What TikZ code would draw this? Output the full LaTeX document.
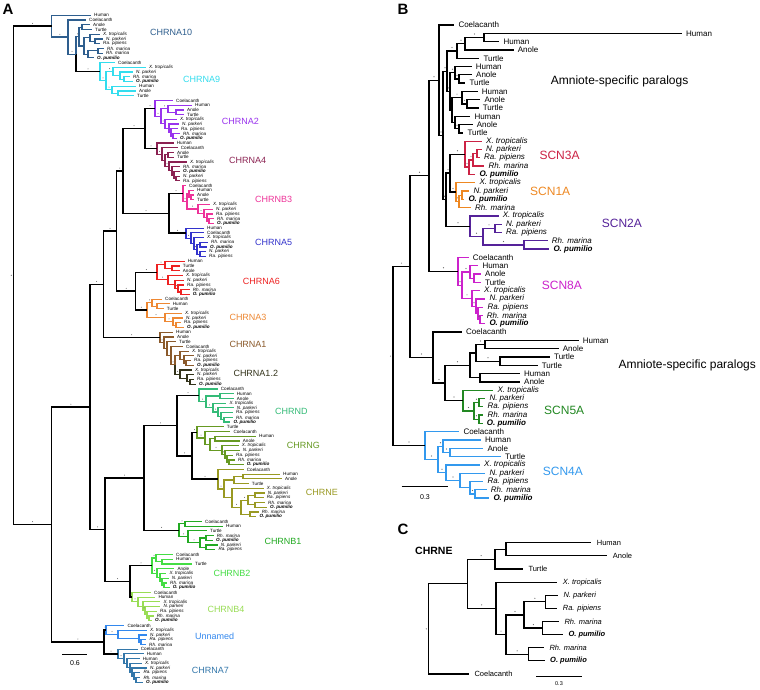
\documentclass[tikz,border=0pt]{standalone}
\usepackage{fontspec}
\setmainfont{Liberation Sans}
\usetikzlibrary{calc}
\definecolor{cA10}{HTML}{2E5E8E}\definecolor{cA9}{HTML}{33DDEE}\definecolor{cA2}{HTML}{9933EE}
\definecolor{cA4}{HTML}{8B2252}\definecolor{cB3}{HTML}{EE3399}\definecolor{cA5}{HTML}{3333CC}
\definecolor{cA6}{HTML}{EE2222}\definecolor{cA3}{HTML}{EE8833}\definecolor{cA1}{HTML}{8B5A2B}
\definecolor{cA12}{HTML}{33331A}\definecolor{cD}{HTML}{33BB77}\definecolor{cG}{HTML}{669922}
\definecolor{cE}{HTML}{999922}\definecolor{cB1}{HTML}{22AA22}\definecolor{cB2}{HTML}{44DD44}
\definecolor{cB4}{HTML}{99DD55}\definecolor{cUn}{HTML}{3388EE}\definecolor{cA7}{HTML}{3377AA}
\definecolor{cS3}{HTML}{CC2244}\definecolor{cS1}{HTML}{EE8822}\definecolor{cS2}{HTML}{552299}
\definecolor{cS8}{HTML}{CC22CC}\definecolor{cS5}{HTML}{228822}\definecolor{cS4}{HTML}{3399EE}
\definecolor{dotc}{HTML}{666666}
\newcommand\spXt{\textit{X. tropicalis}}
\newcommand\spNp{\textit{N. parkeri}}
\newcommand\spRp{\textit{Ra. pipiens}}
\newcommand\spRm{\textit{Rh. marina}}
\newcommand\spOp{\textbf{\textit{O. pumilio}}}
\newcount\leafidx
\def\lfy{0}\def\lfs{1}\def\lfgap{3}
\newcommand\setleaves[3]{\gdef\lfy{#1}\gdef\lfs{#2}\gdef\lfgap{#3}\global\leafidx=0 }
\newcommand\lf[3]{%
  \pgfmathsetmacro\lfyy{\lfy+\lfs*\the\leafidx}%
  \pgfmathsetmacro\lfxx{#2-\lfgap}%
  \coordinate (#1) at (\lfxx,\lfyy);%
  \node[leaf] (#1-t) at (#2,\lfyy) {#3};%
  \global\advance\leafidx by 1\relax}
\newcommand\nd[3]{%
  \foreach \c [count=\ci] in {#3}{\ifnum\ci=1 \xdef\ndfirst{\c}\fi\xdef\ndlast{\c}}%
  \path let \p1=(\ndfirst), \p2=(\ndlast) in coordinate (#1) at (#2pt,{(\y1+\y2)/2});}
\newcommand\ed[3][]{\draw[tbr,#1] (#2) |- (#3);}
\newcommand\cl[4][]{\nd{#2}{#3}{#4}\foreach \c in {#4}{\ed[#1]{#2}{\c}}}
\def\dtoff{2.8pt}\def\dtr{0.5pt}
\newcommand\dt[2]{\fill[dotc] let \p1=(#1), \p2=(#2) in ({(\x1+\x2)/2},{\y2+\dtoff}) circle[radius=\dtr];}
\tikzset{
  leaf/.style={anchor=west,inner sep=0pt,text=black,font=\fontsize{4.6}{5}\selectfont},
  tbr/.style={line width=1.2pt},
  glab/.style={anchor=west,inner sep=0pt,font=\fontsize{9}{9}\selectfont},
  blab/.style={anchor=west,inner sep=0pt,font=\fontsize{12}{12}\selectfont},
  plab/.style={inner sep=0pt,font=\fontsize{15}{15}\selectfont\bfseries}
}
\begin{document}
\begin{tikzpicture}[x=1pt,y=-1pt]
\fill[white] (0,0) rectangle (760,689);
\useasboundingbox (0,0) rectangle (760,689);
\node[plab] (labA) at (8,9) {A};
\node[plab] (labB) at (403,9) {B};
\node[plab] (labC) at (403,529) {C};
%================ PANEL A
\setleaves{15.3}{4.73}{3}
\begin{scope}[color=cA10]
\lf{a10hu}{94}{Human}
\lf{a10co}{89}{Coelacanth}
\lf{a10an}{93}{Anole}
\lf{a10tu}{95}{Turtle}
\lf{a10xt}{103}{\spXt}
\lf{a10np}{106}{\spNp}
\lf{a10rp}{103}{\spRp}
\lf{a10rm}{107}{\spRm}
\lf{a10rmb}{106}{\spRm}
\lf{a10op}{97}{\spOp}
\end{scope}
\begin{scope}[color=cA9]
\lf{a9co}{118}{Coelacanth}
\lf{a9xt}{149}{\spXt}
\lf{a9np}{136}{\spNp}
\lf{a9rm}{133}{\spRm}
\lf{a9op}{136}{\spOp}
\lf{a9hu}{139}{Human}
\lf{a9an}{139}{Anole}
\lf{a9tu}{137}{Turtle}
\cl{a9b}{124}{a9rm,a9op}
\cl{a9c}{120}{a9np,a9b}
\cl{a9d}{113}{a9xt,a9c}
\cl{a9e}{118}{a9an,a9tu}
\cl{a9f}{112}{a9hu,a9e}
\cl{a9g}{106}{a9d,a9f}
\cl{A9}{100}{a9co,a9g}
\end{scope}
\begin{scope}[color=cA10]
\cl{a10f1}{95}{a10np,a10rp}
\cl{a10f2}{90}{a10xt,a10f1}
\cl{a10f3}{98}{a10rm,a10rmb}
\cl{a10f4}{88}{a10f3,a10op}
\cl{a10f5}{84}{a10f2,a10f4}
\cl{a10at}{82}{a10an,a10tu}
\cl{a10S}{79}{a10at,a10f5}
\nd{a10R}{76}{a10S,A9}\ed{a10R}{a10S}\ed[black]{a10R}{A9}
\cl{a10Q}{68}{a10co,a10R}
\cl{P}{51.7}{a10hu,a10Q}
\end{scope}
\begin{scope}[color=cA2]
\lf{a2co}{176}{Coelacanth}
\lf{a2hu}{195}{Human}
\lf{a2an}{187}{Anole}
\lf{a2tu}{187}{Turtle}
\lf{a2xt}{180}{\spXt}
\lf{a2np}{182}{\spNp}
\lf{a2rp}{181}{\spRp}
\lf{a2rm}{183}{\spRm}
\lf{a2op}{180}{\spOp}
\cl{a2a}{176}{a2an,a2tu}
\cl{a2b}{168}{a2hu,a2a}
\cl{a2c}{173}{a2rm,a2op}
\cl{a2d}{171}{a2rp,a2c}
\cl{a2e}{169}{a2np,a2d}
\cl{a2f}{165}{a2xt,a2e}
\cl{a2g}{161}{a2b,a2f}
\cl{A2}{155}{a2co,a2g}
\end{scope}
\begin{scope}[color=cA4]
\lf{a4hu}{176.7}{Human}
\lf{a4co}{180.7}{Coelacanth}
\lf{a4an}{177}{Anole}
\lf{a4tu}{177}{Turtle}
\lf{a4xt}{190}{\spXt}
\lf{a4rm}{183}{\spRm}
\lf{a4op}{183}{\spOp}
\lf{a4np}{183}{\spNp}
\lf{a4rp}{183}{\spRp}
\cl{a4a}{168}{a4an,a4tu}
\cl{a4b}{176}{a4np,a4rp}
\cl{a4c}{174}{a4op,a4b}
\cl{a4d}{172}{a4rm,a4c}
\cl{a4e}{169}{a4xt,a4d}
\cl{a4f}{165}{a4a,a4e}
\cl{a4g}{162}{a4co,a4f}
\cl{A4}{157}{a4hu,a4g}
\end{scope}
\begin{scope}[color=cB3]
\lf{b3co}{189}{Coelacanth}
\lf{b3hu}{197}{Human}
\lf{b3an}{197}{Anole}
\lf{b3tu}{197}{Turtle}
\lf{b3xt}{213}{\spXt}
\lf{b3np}{216}{\spNp}
\lf{b3rp}{216}{\spRp}
\lf{b3rm}{217}{\spRm}
\lf{b3op}{217}{\spOp}
\cl{b3a}{191}{b3an,b3tu}
\cl{b3b}{189}{b3hu,b3a}
\cl{b3c}{209}{b3rm,b3op}
\cl{b3d}{207}{b3rp,b3c}
\cl{b3e}{204}{b3np,b3d}
\cl{b3f}{198}{b3xt,b3e}
\cl{b3g}{187}{b3b,b3f}
\cl{B3}{183}{b3co,b3g}
\end{scope}
\begin{scope}[color=cA5]
\lf{a5hu}{207}{Human}
\lf{a5co}{207}{Coelacanth}
\lf{a5xt}{207}{\spXt}
\lf{a5rm}{211}{\spRm}
\lf{a5op}{210}{\spOp}
\lf{a5np}{209}{\spNp}
\lf{a5rp}{209}{\spRp}
\cl{a5a}{200}{a5rm,a5op}
\cl{a5b}{200}{a5np,a5rp}
\cl{a5c}{197}{a5a,a5b}
\cl{a5d}{194}{a5xt,a5c}
\cl{a5e}{191}{a5co,a5d}
\cl{A5}{186}{a5hu,a5e}
\end{scope}
\begin{scope}[color=cA6]
\lf{a6hu}{187.7}{Human}
\lf{a6tu}{182.7}{Turtle}
\lf{a6an}{182.7}{Anole}
\lf{a6xt}{186}{\spXt}
\lf{a6np}{187}{\spNp}
\lf{a6rp}{187}{\spRp}
\lf{a6rm}{192.7}{\spRm}
\lf{a6op}{192.7}{\spOp}
\cl{a6a}{172}{a6tu,a6an}
\cl{a6b}{165}{a6hu,a6a}
\cl{a6c}{181}{a6rm,a6op}
\cl{a6d}{178}{a6rp,a6c}
\cl{a6e}{175}{a6np,a6d}
\cl{a6f}{168}{a6xt,a6e}
\cl{A6}{157}{a6b,a6f}
\end{scope}
\begin{scope}[color=cA3]
\lf{a3co}{165}{Coelacanth}
\lf{a3hu}{172.7}{Human}
\lf{a3tu}{166.7}{Turtle}
\lf{a3xt}{185}{\spXt}
\lf{a3np}{186}{\spNp}
\lf{a3rp}{184}{\spRp}
\lf{a3op}{187}{\spOp}
\cl{a3a}{157}{a3hu,a3tu}
\cl{a3b}{152}{a3co,a3a}
\cl{a3c}{176}{a3rp,a3op}
\cl{a3d}{173}{a3np,a3c}
\cl{a3e}{165}{a3xt,a3d}
\cl{A3}{147}{a3b,a3e}
\end{scope}
\begin{scope}[color=cA1]
\lf{a1hu}{176}{Human}
\lf{a1an}{177}{Anole}
\lf{a1tu}{179}{Turtle}
\lf{a1co}{186}{Coelacanth}
\lf{a1xt}{192}{\spXt}
\lf{a1np}{197}{\spNp}
\lf{a1rp}{194}{\spRp}
\lf{a1op}{197}{\spOp}
\end{scope}
\begin{scope}[color=cA12]
\lf{a12xt}{195}{\spXt}
\lf{a12np}{197}{\spNp}
\lf{a12rp}{197}{\spRp}
\lf{a12op}{199}{\spOp}
\cl{a12a}{190}{a12rp,a12op}
\cl{a12b}{187}{a12np,a12a}
\cl{A12}{180}{a12xt,a12b}
\end{scope}
\begin{scope}[color=cA1]
\cl{a1a}{186}{a1rp,a1op}
\cl{a1b}{184}{a1np,a1a}
\cl{a1c}{180}{a1xt,a1b}
\nd{a1d}{175}{a1c,A12}\ed{a1d}{a1c}\ed[cA12]{a1d}{A12}
\cl{a1e}{171}{a1co,a1d}
\cl{a1f}{167}{a1tu,a1e}
\cl{a1g}{164}{a1an,a1f}
\cl{A1}{160}{a1hu,a1g}
\end{scope}
\begin{scope}[color=cD]
\lf{dco}{220.7}{Coelacanth}
\lf{dhu}{236.7}{Human}
\lf{dan}{236.7}{Anole}
\lf{dxt}{229.3}{\spXt}
\lf{dnp}{236.7}{\spNp}
\lf{drp}{236}{\spRp}
\lf{drm}{236}{\spRm}
\lf{dop}{233.3}{\spOp}
\cl{da}{220}{dhu,dan}
\cl{db}{224}{drm,dop}
\cl{dc}{221}{drp,db}
\cl{dd}{218}{dnp,dc}
\cl{de}{213}{dxt,dd}
\cl{df}{206}{da,de}
\cl{D}{199}{dco,df}
\end{scope}
\begin{scope}[color=cG]
\lf{gtu}{226.7}{Turtle}
\lf{gco}{233.3}{Coelacanth}
\lf{ghu}{259}{Human}
\lf{gan}{242.7}{Anole}
\lf{gxt}{241.7}{\spXt}
\lf{gnp}{242.7}{\spNp}
\lf{grp}{236}{\spRp}
\lf{grm}{238}{\spRm}
\lf{gop}{246.7}{\spOp}
\cl{ga}{215}{ghu,gan}
\cl{gb}{229}{grm,gop}
\cl{gc}{227}{grp,gb}
\cl{gd}{225}{gnp,gc}
\cl{ge}{222}{gxt,gd}
\cl{gf}{210}{ga,ge}
\cl{gg}{205}{gco,gf}
\cl{G}{197}{gtu,gg}
\end{scope}
\begin{scope}[color=cE]
\lf{eco}{246.7}{Coelacanth}
\lf{ehu}{283}{Human}
\lf{ean}{285}{Anole}
\lf{etu}{251.7}{Turtle}
\lf{ext}{266.7}{\spXt}
\lf{enp}{267.7}{\spNp}
\lf{erp}{266.7}{\spRp}
\lf{erm}{268}{\spRm}
\lf{eop}{270}{\spOp}
\lf{ermb}{261.7}{\spRm}
\lf{eopb}{259.3}{\spOp}
\cl{ea}{243}{ehu,ean}
\cl{eb}{234}{ea,etu}
\cl{ec}{255}{enp,erp}
\cl{ed}{255}{erm,eop}
\cl{ee}{248}{ec,ed}
\cl{ef}{250}{ermb,eopb}
\cl{eg}{241}{ee,ef}
\cl{eh}{232}{ext,eg}
\cl{ei}{224}{eb,eh}
\cl{E}{218}{eco,ei}
\end{scope}
\begin{scope}[color=cB1]
\lf{b1co}{205}{Coelacanth}
\lf{b1hu}{226}{Human}
\lf{b1tu}{210}{Turtle}
\lf{b1rm}{216.7}{\spRm}
\lf{b1op}{216}{\spOp}
\lf{b1np}{220.7}{\spNp}
\lf{b1rp}{218.3}{\spRp}
\cl{b1a}{185}{b1co,b1hu}
\cl{b1b}{206}{b1rm,b1op}
\cl{b1c}{206}{b1np,b1rp}
\cl{b1d}{200}{b1b,b1c}
\cl{b1e}{188}{b1tu,b1d}
\cl{B1}{179}{b1a,b1e}
\end{scope}
\begin{scope}[color=cB2]
\lf{b2co}{176}{Coelacanth}
\lf{b2hu}{176}{Human}
\lf{b2tu}{195}{Turtle}
\lf{b2an}{177.3}{Anole}
\lf{b2xt}{169.3}{\spXt}
\lf{b2np}{171.7}{\spNp}
\lf{b2rm}{170}{\spRm}
\lf{b2op}{172.7}{\spOp}
\cl{b2a}{162}{b2hu,b2tu}
\cl{b2b}{156}{b2co,b2a}
\cl{b2c}{164}{b2rm,b2op}
\cl{b2d}{162}{b2np,b2c}
\cl{b2e}{160}{b2xt,b2d}
\cl{b2f}{157}{b2an,b2e}
\cl{B2}{152}{b2b,b2f}
\end{scope}
\begin{scope}[color=cB4]
\lf{b4co}{154}{Coelacanth}
\lf{b4hu}{158.3}{Human}
\lf{b4xt}{163.3}{\spXt}
\lf{b4np}{163.3}{\spNp}
\lf{b4rp}{160}{\spRp}
\lf{b4rm}{156.7}{\spRm}
\lf{b4op}{155}{\spOp}
\cl{b4a}{149}{b4rm,b4op}
\cl{b4b}{147}{b4rp,b4a}
\cl{b4c}{145}{b4np,b4b}
\cl{b4d}{143}{b4xt,b4c}
\cl{b4e}{138}{b4hu,b4d}
\cl{B4}{132}{b4co,b4e}
\end{scope}
\begin{scope}[color=cUn]
\lf{uco}{127.3}{Coelacanth}
\lf{uxt}{150}{\spXt}
\lf{unp}{150}{\spNp}
\lf{urp}{149.3}{\spRp}
\lf{urm}{149}{\spRm}
\cl{ua}{141}{urp,urm}
\cl{ub}{139}{unp,ua}
\cl{uc}{118}{uxt,ub}
\cl{Un}{106}{uco,uc}
\end{scope}
\begin{scope}[color=cA7]
\lf{sco}{140.7}{Coelacanth}
\lf{shu}{146.7}{Human}
\lf{shub}{142.7}{Human}
\lf{sxt}{145}{\spXt}
\lf{snp}{150}{\spNp}
\lf{srp}{143.3}{\spRp}
\lf{srm}{143.3}{\spRm}
\lf{sop}{146}{\spOp}
\cl{s7a}{136}{srm,sop}
\cl{s7b}{134}{srp,s7a}
\cl{s7c}{132}{snp,s7b}
\cl{s7d}{130}{sxt,s7c}
\cl{s7e}{127}{shub,s7d}
\cl{s7f}{124}{shu,s7e}
\cl{A7}{118}{sco,s7f}
\end{scope}
\begin{scope}[color=black,tbr/.style={line width=1.5pt}]
\cl{A2A4}{145}{A2,A4}
\cl{B3A5}{169}{B3,A5}
\cl{Na}{123}{A2A4,B3A5}
\cl{N4}{135.7}{A6,A3}
\cl{N3}{116.7}{Na,N4}
\cl{N1}{103.3}{N3,A1}
\cl{GE}{192}{G,E}
\cl{N6}{177}{D,GE}
\cl{N5}{144}{N6,B1}
\cl{B24}{130}{B2,B4}
\cl{N2}{105}{N5,B24}
\cl{M}{90}{N1,N2}
\cl{U7}{104}{Un,A7}
\cl{Rest}{51.7}{M,U7}
\cl{Root}{13.3}{P,Rest}
\end{scope}
\dt{Root}{P}\dt{Root}{Rest}\dt{Rest}{M}\dt{Rest}{U7}\dt{M}{N1}\dt{M}{N2}\dt{N1}{N3}\dt{N1}{A1}
\dt{N3}{Na}\dt{N3}{N4}\dt{Na}{A2A4}\dt{Na}{B3A5}\dt{A2A4}{A2}\dt{A2A4}{A4}\dt{B3A5}{B3}\dt{B3A5}{A5}
\dt{N4}{A6}\dt{N4}{A3}\dt{N2}{N5}\dt{N2}{B24}\dt{N5}{N6}\dt{N5}{B1}\dt{N6}{D}\dt{N6}{GE}\dt{GE}{G}\dt{GE}{E}
\dt{B24}{B2}\dt{B24}{B4}\dt{U7}{Un}\dt{U7}{A7}\dt{P}{a10Q}\dt{a10Q}{a10R}\dt{a10R}{A9}\dt{a10R}{a10S}
\dt{A9}{a9g}\dt{a9g}{a9d}\dt{a9g}{a9f}\dt{A2}{a2g}\dt{a2g}{a2b}\dt{a2g}{a2f}\dt{A4}{a4g}\dt{a4f}{a4e}
\dt{B3}{b3g}\dt{b3g}{b3f}\dt{b3f}{b3e}\dt{A5}{a5e}\dt{a5d}{a5c}\dt{A6}{a6b}\dt{A6}{a6f}\dt{a6e}{a6d}
\dt{A3}{a3b}\dt{A3}{a3e}\dt{a3e}{a3d}\dt{A1}{a1g}\dt{a1e}{a1d}\dt{a1d}{A12}\dt{D}{df}\dt{df}{de}\dt{de}{dd}
\dt{G}{gg}\dt{gf}{ge}\dt{ge}{gd}\dt{E}{ei}\dt{eh}{eg}\dt{eg}{ee}\dt{B1}{b1a}\dt{B1}{b1e}\dt{b1e}{b1d}
\dt{B2}{b2b}\dt{B2}{b2f}\dt{b2e}{b2d}\dt{B4}{b4e}\dt{b4d}{b4c}\dt{Un}{uc}\dt{A7}{s7f}\dt{s7d}{s7c}
\fill[dotc] ([xshift=-2pt]Root) circle[radius=0.6pt];
\node[glab,text=cA10] (gA10) at (150,32.3) {CHRNA10};
\node[glab,text=cA9] (gA9) at (183,79) {CHRNA9};
\node[glab,text=cA2] (gA2) at (221.7,121) {CHRNA2};
\node[glab,text=cA4] (gA4) at (229,160.7) {CHRNA4};
\node[glab,text=cB3] (gB3) at (255,199.3) {CHRNB3};
\node[glab,text=cA5] (gA5) at (255,242.7) {CHRNA5};
\node[glab,text=cA6] (gA6) at (242.7,281.7) {CHRNA6};
\node[glab,text=cA3] (gA3) at (229.3,317.7) {CHRNA3};
\node[glab,text=cA1] (gA1) at (229.3,344) {CHRNA1};
\node[glab,text=cA12] (gA12) at (233.3,373.3) {CHRNA1.2};
\node[glab,text=cD] (gD) at (275,411) {CHRND};
\node[glab,text=cG] (gG) at (286.7,445) {CHRNG};
\node[glab,text=cE] (gE) at (305.7,492.7) {CHRNE};
\node[glab,text=cB1] (gB1) at (264.3,541) {CHRNB1};
\node[glab,text=cB2] (gB2) at (213.3,573.3) {CHRNB2};
\node[glab,text=cB4] (gB4) at (207.3,609.3) {CHRNB4};
\node[glab,text=cUn] (gUn) at (195,636.7) {Unnamed};
\node[glab,text=cA7] (gA7) at (191.7,670.7) {CHRNA7};
\coordinate (sbA1) at (62,654); \coordinate (sbA2) at (87,654);
\draw[line width=1pt] (sbA1) -- (sbA2);
\node[inner sep=0pt,font=\fontsize{7}{7}\selectfont] (sbAt) at (75,663) {0.6};
%================ PANEL B
\begin{scope}[leaf/.style={anchor=west,inner sep=0pt,text=black,font=\fontsize{8}{8}\selectfont},tbr/.style={line width=1.3pt}]
\def\dtoff{3.5pt}\def\dtr{0.6pt}
\setleaves{25}{8.3}{4}
\lf{b0co}{458.3}{Coelacanth}
\lf{b1hu}{686}{Human}
\lf{b2hu}{503.3}{Human}
\lf{b3an}{517.7}{Anole}
\lf{b4tu}{483.3}{Turtle}
\lf{b5hu}{475.7}{Human}
\lf{b6an}{476}{Anole}
\lf{b7tu}{469.3}{Turtle}
\lf{b8hu}{481.7}{Human}
\lf{b9an}{484.3}{Anole}
\lf{b10tu}{482.7}{Turtle}
\lf{b11hu}{474.3}{Human}
\lf{b12an}{476.7}{Anole}
\lf{b13tu}{467.3}{Turtle}
\lf{s3xt}{486}{\spXt}
\lf{s3np}{486}{\spNp}
\lf{s3rp}{484}{\spRp}
\lf{s3rm}{488.3}{\spRm}
\lf{s3op}{479.3}{\spOp}
\lf{s1xt}{479.3}{\spXt}
\lf{s1np}{473.3}{\spNp}
\lf{s1op}{468.3}{\spOp}
\lf{s1rm}{475}{\spRm}
\lf{s2xt}{502.7}{\spXt}
\lf{s2np}{506}{\spNp}
\lf{s2rp}{506}{\spRp}
\lf{s2rm}{551.7}{\spRm}
\lf{s2op}{553.3}{\spOp}
\lf{s8co}{472.7}{Coelacanth}
\lf{s8hu}{482.3}{Human}
\lf{s8an}{485}{Anole}
\lf{s8tu}{485}{Turtle}
\lf{s8xt}{484}{\spXt}
\lf{s8np}{489.3}{\spNp}
\lf{s8rp}{487.3}{\spRp}
\lf{s8rm}{486.7}{\spRm}
\lf{s8op}{489.3}{\spOp}
\lf{c2co}{466}{Coelacanth}
\lf{c2hu}{582.7}{Human}
\lf{c2an}{562.7}{Anole}
\lf{c2tu}{554}{Turtle}
\lf{c2tub}{541.7}{Turtle}
\lf{c2hub}{524}{Human}
\lf{c2anb}{524}{Anole}
\lf{s5xt}{497.3}{\spXt}
\lf{s5np}{489.3}{\spNp}
\lf{s5rp}{487.3}{\spRp}
\lf{s5rm}{487.3}{\spRm}
\lf{s5op}{486.7}{\spOp}
\lf{s4co}{463.3}{Coelacanth}
\lf{s4hu}{485}{Human}
\lf{s4an}{487.3}{Anole}
\lf{s4tu}{505}{Turtle}
\lf{s4xt}{484}{\spXt}
\lf{s4np}{489.3}{\spNp}
\lf{s4rp}{487.3}{\spRp}
\lf{s4rm}{490.7}{\spRm}
\lf{s4op}{493.3}{\spOp}
\cl{bT1b}{484}{b1hu,b2hu}
\cl{bT1a}{465}{bT1b,b3an}
\cl{bT1}{457}{bT1a,b4tu}
\cl{bAT1}{459}{b6an,b7tu}
\cl{bTr1}{455}{b5hu,bAT1}
\cl{bAT2}{467}{b9an,b10tu}
\cl{bTr2}{462}{b8hu,bAT2}
\cl{bAT3}{459}{b12an,b13tu}
\cl{bTr3}{455}{b11hu,bAT3}
\cl{bT2b}{452}{bTr2,bTr3}
\cl{bT2}{450}{bTr1,bT2b}
\cl{bT}{447}{bT1,bT2}
\begin{scope}[color=cS3]
\cl{s3a}{477}{s3np,s3rp}
\cl{s3b}{473}{s3a,s3rm}
\cl{s3c}{469}{s3b,s3op}
\cl{S3}{465}{s3xt,s3c}
\end{scope}
\begin{scope}[color=cS1]
\cl{s1a}{462}{s1np,s1op}
\cl{s1b}{459}{s1a,s1rm}
\cl{S1}{456}{s1xt,s1b}
\end{scope}
\begin{scope}[color=cS2]
\cl{s2a}{495}{s2np,s2rp}
\cl{s2b}{524}{s2rm,s2op}
\cl{s2c}{483}{s2a,s2b}
\cl{S2}{470}{s2xt,s2c}
\end{scope}
\cl{bU}{450}{S3,S1}
\cl{bV}{446}{bU,S2}
\cl{bQ}{443}{bT,bV}
\cl{bP}{439}{b0co,bQ}
\begin{scope}[color=cS8]
\cl{s8a}{474}{s8an,s8tu}
\cl{s8b}{470}{s8hu,s8a}
\cl{s8c}{480}{s8rm,s8op}
\cl{s8d}{478}{s8rp,s8c}
\cl{s8e}{476}{s8np,s8d}
\cl{s8f}{472}{s8xt,s8e}
\cl{s8g}{462}{s8b,s8f}
\cl{S8}{458}{s8co,s8g}
\end{scope}
\cl{bX429}{429}{bP,S8}
\cl{cTT}{500}{c2tu,c2tub}
\cl{cY4}{485}{c2hu,c2an}
\cl{cY3a}{476}{cY4,cTT}
\cl{cHA}{480}{c2hub,c2anb}
\cl{cY3}{470}{cY3a,cHA}
\begin{scope}[color=cS5]
\cl{s5a}{479}{s5np,s5rp}
\cl{s5b}{479}{s5rm,s5op}
\cl{s5c}{474}{s5a,s5b}
\cl{S5}{463}{s5xt,s5c}
\end{scope}
\cl{cY2}{445}{cY3,S5}
\cl{cY}{433}{c2co,cY2}
\cl{bX410}{410}{bX429,cY}
\begin{scope}[color=cS4]
\cl{s4a}{450}{s4an,s4tu}
\cl{s4b}{443}{s4hu,s4a}
\cl{s4c}{475}{s4rm,s4op}
\cl{s4d}{470}{s4rp,s4c}
\cl{s4e}{460}{s4np,s4d}
\cl{s4f}{446}{s4xt,s4e}
\cl{s4g}{438}{s4b,s4f}
\cl{S4}{425}{s4co,s4g}
\end{scope}
\cl{bRoot}{393}{bX410,S4}
\dt{bRoot}{bX410}\dt{bRoot}{S4}\dt{bX410}{bX429}\dt{bX410}{cY}\dt{bX429}{bP}\dt{bX429}{S8}\dt{bP}{bQ}
\dt{bQ}{bT}\dt{bQ}{bV}\dt{bT}{bT1}\dt{bT}{bT2}\dt{bT1a}{bT1b}\dt{bT1}{bT1a}\dt{bT2}{bTr1}\dt{bTr1}{bAT1}
\dt{bT2b}{bTr2}\dt{bTr2}{bAT2}\dt{bTr3}{bAT3}\dt{bV}{bU}\dt{bV}{S2}\dt{bU}{S3}\dt{bU}{S1}\dt{S3}{s3c}
\dt{s3c}{s3b}\dt{S1}{s1b}\dt{S2}{s2c}\dt{s2c}{s2a}\dt{s2c}{s2b}\dt{S8}{s8g}\dt{s8g}{s8b}\dt{s8g}{s8f}
\dt{s8f}{s8e}\dt{s8d}{s8c}\dt{cY}{cY2}\dt{cY2}{cY3}\dt{cY3a}{cY4}\dt{cY3a}{cTT}\dt{cY2}{S5}\dt{S5}{s5c}
\dt{s5c}{s5a}\dt{s5c}{s5b}\dt{S4}{s4g}\dt{s4g}{s4b}\dt{s4g}{s4f}\dt{s4b}{s4a}\dt{s4f}{s4e}\dt{s4d}{s4c}
\fill[dotc] ([xshift=-2.5pt]bRoot) circle[radius=0.6pt];
\end{scope}
\node[blab] (gAm1) at (550.7,81) {Amniote-specific paralogs};
\node[blab,text=cS3] (gS3) at (539.3,155) {SCN3A};
\node[blab,text=cS1] (gS1) at (530,191.7) {SCN1A};
\node[blab,text=cS2] (gS2) at (601.7,223.3) {SCN2A};
\node[blab,text=cS8] (gS8) at (541.7,285) {SCN8A};
\node[blab] (gAm2) at (618.3,365) {Amniote-specific paralogs};
\node[blab,text=cS5] (gS5) at (544,410) {SCN5A};
\node[blab,text=cS4] (gS4) at (542.7,471) {SCN4A};
\coordinate (sbB1) at (401.7,486.7); \coordinate (sbB2) at (448.3,486.7);
\draw[line width=1pt] (sbB1) -- (sbB2);
\node[inner sep=0pt,font=\fontsize{7}{7}\selectfont] (sbBt) at (425,497.3) {0.3};
%================ PANEL C
\begin{scope}[leaf/.style={anchor=west,inner sep=0pt,text=black,font=\fontsize{7.5}{8}\selectfont},tbr/.style={line width=1.2pt}]
\def\dtoff{3.5pt}\def\dtr{0.6pt}
\setleaves{542.7}{13.13}{5.5}
\lf{chu}{596.7}{Human}
\lf{can}{612.7}{Anole}
\lf{ctu}{528.3}{Turtle}
\lf{cxt}{562.7}{\spXt}
\lf{cnp}{563.3}{\spNp}
\lf{crp}{562.7}{\spRp}
\lf{crm}{564.3}{\spRm}
\lf{cop}{568.3}{\spOp}
\lf{crmb}{549.3}{\spRm}
\lf{copb}{550}{\spOp}
\lf{cco}{474.3}{Coelacanth}
\cl{cHAn}{506}{chu,can}
\cl{c2}{495}{cHAn,ctu}
\cl{cNR}{545.7}{cnp,crp}
\cl{cRO}{542.7}{crm,cop}
\cl{c5}{524}{cNR,cRO}
\cl{c6}{528.3}{crmb,copb}
\cl{c4}{506}{c5,c6}
\cl{c3}{496}{cxt,c4}
\cl{c1}{467.3}{c2,c3}
\cl{cR}{428.3}{c1,cco}
\dt{c1}{c2}\dt{c1}{c3}\dt{c5}{cNR}\dt{c4}{c5}\dt{c5}{cRO}\dt{c3}{c4}\dt{c4}{c6}
\fill[dotc] ([xshift=-2pt]cR) circle[radius=0.6pt];
\end{scope}
\node[anchor=west,inner sep=0pt,font=\fontsize{10.5}{10.5}\selectfont\bfseries] (gCE) at (415,551) {CHRNE};
\coordinate (sbC1) at (536,676.7); \coordinate (sbC2) at (582.3,676.7);
\draw[line width=0.9pt] (sbC1) -- (sbC2);
\node[inner sep=0pt,font=\fontsize{5.5}{5.5}\selectfont] (sbCt) at (559,683.8) {0.3};
\end{tikzpicture}
\end{document}
